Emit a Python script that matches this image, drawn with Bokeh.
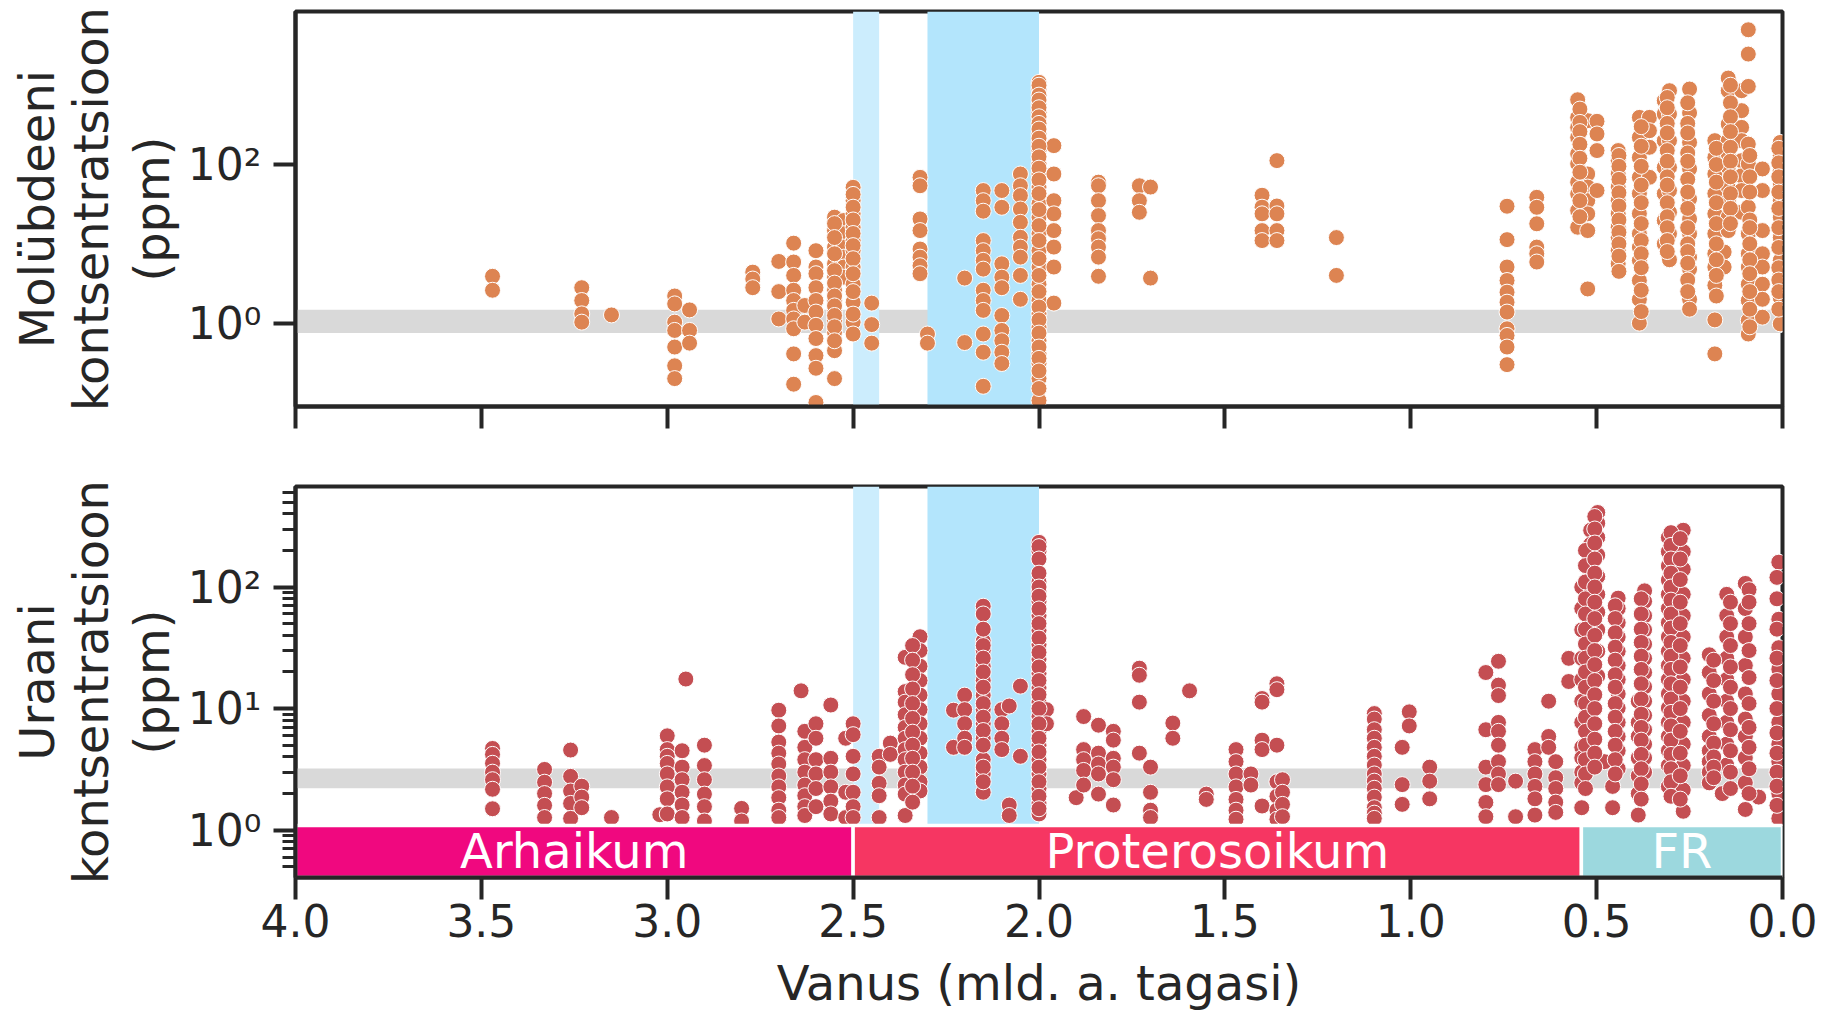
from bokeh.plotting import figure
from bokeh.layouts import column
from bokeh.models import Range1d, FixedTicker, CustomJSTickFormatter, Title, CustomLabelingPolicy
from bokeh.core.properties import value
from bokeh.embed import file_html
from bokeh.resources import INLINE

# ---------------- data ----------------
# Molybdenum: column ages (Ga) and the values (ppm) stacked at each age
mo_col_age = [3.47, 3.23, 3.15, 2.98, 2.94, 2.77, 2.70, 2.66, 2.63, 2.60, 2.55, 2.525,
              2.50, 2.45, 2.32, 2.30, 2.20, 2.15, 2.10, 2.05, 2.00, 1.96, 1.84, 1.73,
              1.70, 1.40, 1.36, 1.20, 0.741, 0.661, 0.551, 0.524, 0.499, 0.442, 0.385,
              0.358, 0.318, 0.304, 0.25, 0.182, 0.157, 0.146, 0.11, 0.092, 0.054, 0.006,
              2.00, 2.50, 2.55, 0.545, 0.44, 0.38, 0.31, 0.255, 0.178, 0.14, 0.088, 0.01]
mo_col_ppm = [
    [3.9, 2.6],
    [2.8, 1.93, 1.31, 1.03],
    [1.27],
    [2.2, 1.75, 1.03, 0.81, 0.5, 0.29, 0.2],
    [1.47, 0.81, 0.56],
    [4.4, 3.6, 2.8],
    [6.0, 2.5, 1.13],
    [10.2, 5.9, 4.0, 2.6, 1.93, 1.45, 1.13, 0.85, 0.41, 0.17],
    [1.67, 1.03],
    [8.2, 5.1, 4.2, 2.8, 1.93, 1.38, 0.94, 0.64, 0.39, 0.27, 0.1],
    [21.7, 14.7, 9.1, 5.6, 3.8, 2.6, 1.93, 1.45, 1.08, 0.77, 0.45, 0.2],
    [19.7, 13.4, 9.1, 6.8, 5.1, 3.8],
    [51.6, 35, 23.9, 16.2, 11, 8.2, 5.1, 3.1, 1.84, 1.03, 0.73],
    [1.79, 0.96, 0.56],
    [69, 54, 20.6, 14.7, 8.6, 6.8, 5.3, 4.2],
    [0.73, 0.56],
    [3.7, 0.57],
    [47, 35, 25.8, 11, 8.2, 6.2, 4.8, 2.6, 1.93, 1.45, 0.73, 0.43, 0.16],
    [47, 28.9, 5.6, 3.8, 2.8, 1.25, 0.81, 0.6, 0.43, 0.31],
    [76, 54, 40.6, 27.5, 18.7, 12.1, 9.1, 6.8, 4.0, 2.0],
    [1087, 895, 580, 455, 243, 190, 150, 102, 76, 52, 32, 21.7, 13.4, 8.2, 5.1, 3.1,
     1.93, 1.31, 0.89, 0.6, 0.41, 0.31, 0.2, 0.106],
    [173, 76, 35, 23.9, 14.7, 9.1, 5.1, 1.79],
    [60, 54, 35, 22.7, 14.7, 11.6, 9.1, 6.8, 3.9],
    [54, 35, 25],
    [52, 3.7],
    [41, 29, 23.9, 14.7, 11],
    [112, 30, 23.9, 14.7, 11],
    [12, 4],
    [29.8, 11.3, 5.1, 3.45, 2.46, 1.84, 1.38, 0.85, 0.7, 0.5, 0.3],
    [38.6, 28.9, 17.9, 9.1, 7.5, 5.9],
    [656, 393, 294, 220, 136, 102, 60, 42.6, 26.3, 16.2],
    [357, 76, 52, 35, 23.9, 14.7, 2.7],
    [351, 243, 150, 47],
    [150, 112, 76, 52, 35, 23.9, 16.2, 12.1, 8.2, 5.6],
    [393, 220, 123, 69, 43, 24, 13.4, 9.1, 6.2, 3.45, 1.99, 1.0],
    [393, 267, 165, 69],
    [638, 434, 200, 92, 43, 19.7, 10],
    [853, 434, 200, 92, 47, 25, 13.4, 6.3],
    [895, 447, 190, 88, 36.8, 20.6, 13.4, 6.8, 4.8, 2.0, 1.5],
    [200, 123, 76, 43, 23.9, 13.4, 7.5, 5.1, 3.0, 1.1, 0.41],
    [7.9, 5.1],
    [1230, 853, 324, 200, 136, 92, 52, 35, 21.7, 14.7],
    [853, 478, 294, 200, 112, 72, 47, 25],
    [5000, 2470, 966, 181, 102, 29, 13.4, 7.5, 5.1, 3.1, 1.93, 1.08, 0.73],
    [88, 47, 14.7, 7.5, 5.1, 3.1, 2.0, 1.19],
    [190, 130, 84, 57, 35, 21.7, 12, 6.2, 4.2, 3.0, 2.1, 0.98],
    # second pass: markers packed between the ones above
    [1000, 750, 650, 520, 400, 330, 280, 215, 170, 125, 90, 64, 43, 27, 17, 11, 6.5,
     4.0, 2.5, 1.6, 1.1, 0.75, 0.5, 0.36, 0.25, 0.15],
    [42, 29, 20, 13.5, 9.5, 6.5, 4.2, 2.5, 1.3],
    [18, 12, 7.5, 4.6, 3.2, 2.2, 1.65, 1.25, 0.9, 0.6],
    [500, 340, 260, 180, 120, 80, 50, 35, 22],
    [130, 95, 65, 44, 30, 20, 14, 10, 7, 4.5],
    [300, 170, 95, 55, 33, 18, 11, 7.5, 5, 2.6, 1.4],
    [700, 520, 330, 250, 150, 110, 70, 55, 33, 22, 16, 11, 8],
    [600, 330, 250, 140, 110, 65, 45, 28, 16, 10, 8, 5.7, 3.5, 2.5],
    [160, 100, 60, 33, 18, 10, 6.3, 4.0, 2.2],
    [1000, 600, 400, 260, 165, 110, 70, 43, 28, 18],
    [130, 70, 45, 20, 16, 10, 6.3, 4.2, 2.5, 1.5, 0.9],
    [160, 105, 70, 45, 28, 16, 9, 5, 3.5, 2.5, 1.5],
]

# Uranium: column ages (Ga) and values (ppm)
u_col_age = [3.47, 3.33, 3.26, 3.23, 3.15, 3.02, 3.00, 2.96, 2.95, 2.90, 2.80, 2.70,
             2.64, 2.63, 2.60, 2.56, 2.52, 2.50, 2.43, 2.40, 2.36, 2.32, 2.23, 2.20,
             2.15, 2.10, 2.08, 2.05, 2.00, 1.98, 1.90, 1.88, 1.84, 1.80, 1.73, 1.70,
             1.64, 1.595, 1.55, 1.47, 1.43, 1.40, 1.36, 1.345, 1.098, 1.023, 1.004,
             0.949, 0.798, 0.764, 0.718, 0.666, 0.629, 0.61, 0.575, 0.54, 0.516,
             0.497, 0.479, 0.457, 0.442, 0.388, 0.371, 0.307, 0.267, 0.197, 0.162,
             0.15, 0.10, 0.064, 0.01,
             0.53, 0.505, 0.45, 0.38, 0.30, 0.275, 0.185, 0.14, 0.09, 0.015,
             2.00, 2.34, 2.15]
u_col_ppm = [
    [4.7, 4.2, 3.55, 3.0, 2.6, 2.17, 1.5],
    [3.16, 2.48, 2.0, 1.6, 1.27],
    [4.56, 2.77, 2.1, 1.66, 1.25],
    [2.3, 1.87, 1.53],
    [1.27],
    [1.34],
    [5.97, 4.6, 4.05, 3.54, 2.9, 2.27, 1.81, 1.36],
    [4.5, 3.3, 2.6, 2.05, 1.61, 1.27],
    [17.5],
    [5.0, 3.4, 2.6, 1.98, 1.56, 1.19],
    [1.51, 1.19],
    [9.7, 7.2, 5.3, 4.3, 3.5, 2.79, 2.27, 1.85, 1.46, 1.27],
    [14],
    [6.5, 4.8, 3.8, 3.0, 2.35, 1.92, 1.56, 1.32],
    [7.5, 5.7, 3.8, 2.9, 2.2, 1.56],
    [10.7, 3.9, 3.0, 2.27, 1.73, 1.36],
    [5.7, 2.05, 1.27],
    [7.5, 6.1, 4.05, 2.9, 2.05, 1.56, 1.27],
    [4.05, 3.3, 2.43, 1.92, 1.27],
    [5.2, 4.2],
    [26.4, 13.8, 11.3, 8.9, 7.0, 5.7, 4.6, 3.8, 3.0, 2.35, 1.98, 1.32],
    [39, 30, 22.3, 17, 12.9, 9.8, 7.5, 5.7, 4.3, 3.3, 2.5, 2.1],
    [9.7, 4.8],
    [12.9, 9.8, 7.5, 5.7, 4.8],
    [69.5, 35.9, 30, 22.3, 17, 12.9, 9.8, 7.5, 5.7, 3.8, 2.9, 2.05],
    [9.8, 7.5, 5.7, 4.6],
    [10.5, 1.61, 1.32],
    [15.3, 4.05],
    [233, 197, 110, 93, 76, 58, 44, 33.5, 25.5, 19.4, 14.8, 11.3, 8.6, 6.5, 5.0,
     3.8, 2.9, 2.2, 1.67, 1.36],
    [9.8, 7.5],
    [1.85],
    [8.6, 4.6, 3.8, 3.1, 2.35],
    [7.3, 4.3, 3.5, 2.9, 1.98],
    [6.5, 5.5, 3.9, 3.3, 2.6, 1.61],
    [21.5, 18.8, 11.3, 4.3],
    [3.3, 2.05, 1.46, 1.27],
    [7.6, 5.7],
    [14],
    [1.98, 1.79],
    [4.6, 3.66, 2.9, 2.27, 1.79, 1.46, 1.23],
    [2.9, 2.35],
    [12.1, 11.3, 5.5, 4.6, 1.58],
    [16, 14.3, 5.0, 2.5, 1.9, 1.46, 1.23],
    [2.6, 2.05, 1.63, 1.29],
    [9.1, 8.2, 6.7, 5.7, 4.8, 4.05, 3.43, 2.9, 2.53, 2.21, 1.87, 1.53, 1.38, 1.25],
    [4.8, 2.37, 1.63],
    [9.4, 7.2],
    [3.3, 2.53, 1.81],
    [19.8, 6.7, 3.3, 2.37, 1.69, 1.29],
    [24.5, 15.6, 12.8, 7.7, 6.5, 5.0, 3.66, 2.9, 2.37],
    [2.53, 1.29],
    [4.6, 3.66, 2.9, 2.29, 1.81, 1.33],
    [11.5, 5.9, 4.8],
    [3.66, 2.7, 2.2, 1.7, 1.4],
    [25.9, 16.7],
    [99.8, 66.5, 44.4, 25.9, 17.3, 11.5, 7.7, 4.8, 3.93, 3.0, 2.45, 1.53],
    [293, 224, 171, 131, 99.8, 76.2, 58, 44.4, 33.9, 25.9, 19.8, 15.1, 11.5, 8.8, 6.7, 5.1],
    [410, 335, 256, 183, 122, 87, 62, 44.4, 29.6, 18.5],
    [3.66],
    [2.29, 1.53],
    [81, 66.5, 50.8, 38.8, 29.6, 22.6, 17.3, 13.2, 10.1, 7.7, 5.9, 4.5, 3.2],
    [11.5, 7.7, 5.9, 3.93, 2.8, 2.0, 1.33],
    [93, 76.2, 58, 44.4, 33.9, 25.9, 19.8, 15.1, 11.5, 8.8, 6.7, 5.1, 3.93, 3.0],
    [256, 195, 149, 114, 87, 66.5, 50.8, 38.8, 29.6, 22.6, 17.3, 13.2, 10.1, 7.7, 5.9,
     4.5, 3.4, 2.29],
    [293, 195, 140, 87, 58, 38.8, 25.9, 17.3, 11.5, 7.7, 5.1, 3.4, 2.14, 1.43],
    [27.7, 19.8, 13.2, 8.8, 5.9, 4.5, 3.66, 3.0, 2.45],
    [2.0],
    [87, 58, 38.8, 25.9, 17.3, 11.5, 7.7, 5.1, 3.43],
    [107, 66.5, 38.8, 22.6, 13.2, 8.2, 5.9, 3.93, 2.45, 1.48],
    [1.87],
    [160, 54.3, 31.7, 21.1, 13.2, 7.7, 5.1, 3.66, 2.0, 1.25],
    # second pass: markers packed between the ones above
    [200, 150, 110, 80, 60, 45, 34, 26, 20, 15, 11, 8.5, 6.5, 5, 3.8, 2.9, 2.2],
    [380, 300, 230, 170, 130, 100, 75, 55, 40, 30, 23, 17, 13, 10, 7.5, 5.6, 4.3, 3.3],
    [70, 55, 42, 32, 25, 19, 15, 11, 8.5, 6.5, 5, 3.8, 2.9],
    [80, 60, 45, 35, 27, 21, 16, 12, 9, 7, 5.5, 4.2, 3.2, 2.4, 1.8],
    [280, 220, 170, 130, 100, 78, 60, 46, 35, 27, 21, 16, 12, 9.3, 7.2, 5.5, 4.2, 3.2,
     2.5, 1.9],
    [250, 170, 115, 75, 50, 33, 22, 15, 10, 6.5, 4.3, 2.8, 1.8],
    [25, 17, 11.5, 7.5, 5.2, 4.0, 3.3, 2.7],
    [75, 50, 33, 22, 15, 10, 6.7, 4.5, 3.0, 2.2],
    [95, 75, 50, 30, 18, 11, 7, 4.8, 3.2, 2.0],
    [120, 80, 45, 26, 17, 10, 6.3, 4.3, 3.0, 2.3, 1.6],
    [215, 170, 130, 100, 84, 66, 50, 38, 29, 22, 17, 13, 10, 7.5, 5.7, 4.4, 3.3, 2.5,
     1.9, 1.5],
    [33, 25, 19, 14.5, 11, 8.3, 6.4, 5, 3.9, 3.0, 2.3, 1.7],
    [60, 45, 33, 26, 20, 15, 11, 8.5, 6.6, 5, 3.3, 2.5],
]

# geological eras (bar along the bottom of the lower panel)
era_names = ["Arhaikum", "Proterosoikum", "FR"]
era_start = [4.0, 2.5, 0.541]
era_end = [2.5, 0.541, 0.0]
era_colors = ["#f0087f", "#f63662", "#9cd8de"]

# oxygenation intervals (vertical shaded bands)
band_start = [2.5, 2.3]
band_end = [2.43, 2.0]
band_colors = ["#ccedfd", "#b3e5fc"]

# crustal reference ranges (horizontal grey bands)
mo_crust_low, mo_crust_high = 0.75, 1.48
u_crust_low, u_crust_high = 2.21, 3.22

x_ticks = [4.0, 3.5, 3.0, 2.5, 2.0, 1.5, 1.0, 0.5, 0.0]
mo_y_ticks = [1, 100]
u_y_ticks = [1, 10, 100]
u_y_minor = [0.4, 0.5, 0.6, 0.7, 0.8, 0.9, 2, 3, 4, 5, 6, 7, 8, 9,
             20, 30, 40, 50, 60, 70, 80, 90, 200, 300, 400, 500, 600]

mo_y_range = (0.089, 8500)
u_y_range = (0.408, 671)
era_bar_top = 1.09
era_label_y = 0.671

# ---------------- styling ----------------
FONT = "DejaVu Sans"
INK = "#262626"
MO_COLOR = "#dd8452"
U_COLOR = "#c44e52"
GREY = "#d9d9d9"


def flatten(ages, vals):
    xs, ys = [], []
    for a, vs in zip(ages, vals):
        xs += [a] * len(vs)
        ys += list(vs)
    return xs, ys


log_fmt = CustomJSTickFormatter(code="""
const sup = {'-':'\u207b','0':'\u2070','1':'\u00b9','2':'\u00b2','3':'\u00b3',
             '4':'\u2074','5':'\u2075','6':'\u2076','7':'\u2077','8':'\u2078','9':'\u2079'};
const e = Math.round(Math.log10(tick));
return '10' + String(e).split('').map(c => sup[c]).join('');
""")
x_fmt = CustomJSTickFormatter(code="return tick.toFixed(1);")

x_range = Range1d(x_ticks[0], x_ticks[-1])


def make_fig(height, yr, border_top, border_bottom, label_lines, standoffs):
    p = figure(width=1822, height=height, x_range=x_range, y_range=Range1d(*yr),
               y_axis_type="log", output_backend="svg", toolbar_location=None,
               min_border_left=295, min_border_right=40,
               min_border_top=border_top, min_border_bottom=border_bottom)
    p.grid.visible = False
    p.outline_line_color = INK
    p.outline_line_width = 4
    p.outline_line_alpha = 1
    p.background_fill_color = "white"
    p.border_fill_color = "white"
    for ax in p.axis:
        ax.axis_line_color = INK
        ax.axis_line_width = 4
        ax.major_tick_line_color = INK
        ax.major_tick_line_width = 4
        ax.major_tick_out = 22
        ax.major_tick_in = 0
        ax.minor_tick_line_color = INK
        ax.minor_tick_line_width = 3
        ax.minor_tick_out = 13
        ax.minor_tick_in = 0
        ax.major_label_text_font = FONT
        ax.major_label_text_font_size = "44px"
        ax.major_label_text_color = INK
        ax.axis_label_text_font = FONT
        ax.axis_label_text_font_size = "48px"
        ax.axis_label_text_font_style = "normal"
        ax.axis_label_text_color = INK
    p.xaxis.ticker = FixedTicker(ticks=x_ticks, minor_ticks=[])
    p.xaxis.formatter = x_fmt
    p.xaxis.major_label_standoff = 4
    p.xaxis.axis_label_standoff = 15
    p.yaxis.formatter = log_fmt
    p.yaxis.major_label_standoff = 12
    for txt, so in zip(label_lines, standoffs):
        p.add_layout(Title(text=txt, align="center", text_font=FONT,
                           text_font_size="48px", text_font_style="normal",
                           text_color=INK, standoff=so), "left")
    return p


title_standoffs = [10, -4, -4]

# ---------------- top panel: molybdenum ----------------
top = make_fig(476, mo_y_range, 11, 70, ["(ppm)", "kontsentratsioon", "Molübdeeni"],
               title_standoffs)
top.yaxis.ticker = FixedTicker(ticks=mo_y_ticks, minor_ticks=[])
top.xaxis.major_label_policy = CustomLabelingPolicy(
    code="for (const i of indices) { indices.unset(i) } return indices;")

top.quad(left=[x_ticks[0]], right=[x_ticks[-1]], bottom=[mo_crust_low], top=[mo_crust_high],
         fill_color=GREY, line_color=None)
top.quad(left=band_start, right=band_end, bottom=mo_y_range[0], top=mo_y_range[1],
         fill_color=band_colors, line_color=None)
mx, my = flatten(mo_col_age, mo_col_ppm)
top.scatter(mx, my, size=16, fill_color=MO_COLOR, line_color="white", line_width=1.0)

# ---------------- bottom panel: uranium ----------------
bot = make_fig(537, u_y_range, 10, 133, ["(ppm)", "kontsentratsioon", "Uraani"],
               title_standoffs)
bot.yaxis.ticker = FixedTicker(ticks=u_y_ticks, minor_ticks=u_y_minor)
bot.xaxis.axis_label = "Vanus (mld. a. tagasi)"

bot.quad(left=[x_ticks[0]], right=[x_ticks[-1]], bottom=[u_crust_low], top=[u_crust_high],
         fill_color=GREY, line_color=None)
bot.quad(left=band_start, right=band_end, bottom=u_y_range[0], top=u_y_range[1],
         fill_color=band_colors, line_color=None)
ux, uy = flatten(u_col_age, u_col_ppm)
bot.scatter(ux, uy, size=16, fill_color=U_COLOR, line_color="white", line_width=1.0)

bot.quad(left=era_start, right=era_end, bottom=u_y_range[0], top=era_bar_top,
         fill_color=era_colors, line_color="white", line_width=3.5)
era_mid = [(a + b) / 2 for a, b in zip(era_start, era_end)]
bot.text(x=era_mid, y=[era_label_y] * len(era_mid), text=era_names,
         text_align="center", text_baseline="middle",
         text_font=value(FONT), text_font_size="48px", text_color="white")

layout = column(top, bot, spacing=0)
open("out.html", "w").write(file_html(layout, INLINE))
